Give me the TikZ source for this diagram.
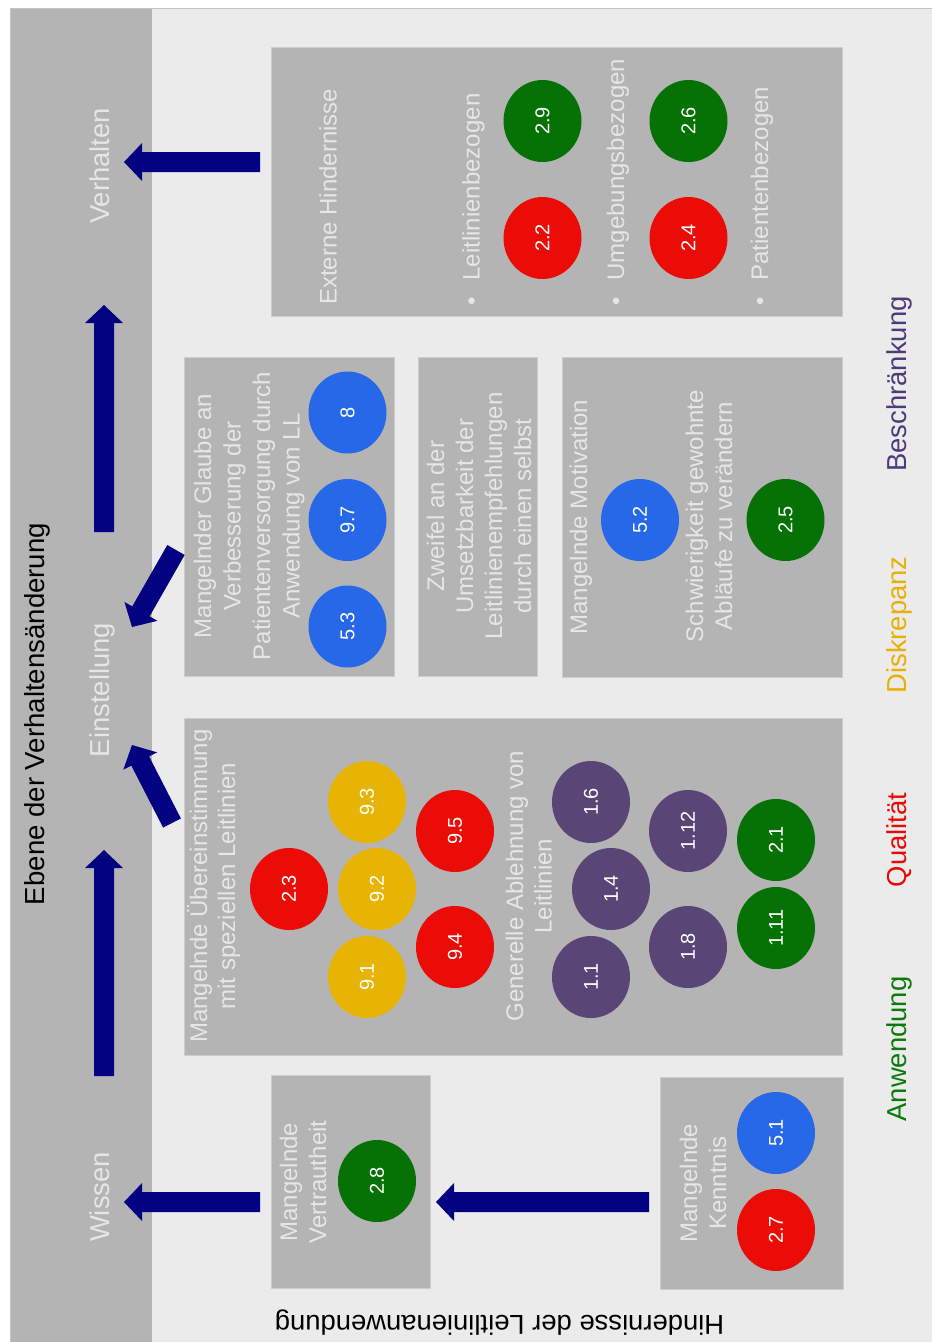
\documentclass[tikz,border=0pt]{standalone}
\usepackage{fontspec}
\setmainfont{Liberation Sans}
\usetikzlibrary{calc,shapes.geometric}

\definecolor{panelgray}{HTML}{EBEBEB}
\definecolor{framegray}{HTML}{C4C4C4}
\definecolor{bandgray}{HTML}{B4B4B4}
\definecolor{boxgray}{HTML}{B4B4B4}
\definecolor{boxedge}{HTML}{CDCDCD}
\definecolor{boxtext}{HTML}{E6E6E6}
\definecolor{navy}{HTML}{030382}
\definecolor{cred}{HTML}{EB0C08}
\definecolor{cgreen}{HTML}{067206}
\definecolor{cblue}{HTML}{2668E8}
\definecolor{cyellow}{HTML}{E8B404}
\definecolor{cpurple}{HTML}{5A4676}
\definecolor{lgreen}{HTML}{0B7A0B}
\definecolor{lred}{HTML}{E80808}
\definecolor{lyellow}{HTML}{E8B000}
\definecolor{lpurple}{HTML}{4B3B78}

\newcommand{\setfs}[1]{\fontsize{#1pt}{#1pt}\selectfont}

% filled block arrow: #1 name, #2 tail coordinate, #3 tip coordinate
\newcommand{\blockarrow}[3]{%
  \coordinate (#1-hb) at ($(#3)!18pt!(#2)$);
  \fill[navy] ($(#2)!10pt!90:(#3)$) -- ($(#1-hb)!10pt!90:(#3)$)
    -- ($(#1-hb)!19pt!90:(#3)$) -- (#3) -- ($(#1-hb)!19pt!-90:(#3)$)
    -- ($(#1-hb)!10pt!-90:(#3)$) -- ($(#2)!10pt!-90:(#3)$) -- cycle;
}

\tikzset{
  panelbox/.style={draw=boxedge, line width=0.8pt, fill=boxgray, inner sep=0pt},
  linetext/.style={rotate=90, anchor=base, inner sep=0pt, text=boxtext, font=\setfs{24}},
  listtext/.style={rotate=90, anchor=base west, inner sep=0pt, text=boxtext, font=\setfs{24}},
  bubble/.style={ellipse, rotate=90, minimum width=82pt, minimum height=78pt,
                 inner sep=0pt, text=white, font=\setfs{20}},
  stagelabel/.style={rotate=90, anchor=base, inner sep=0pt, text=boxtext, font=\setfs{27.4}},
  legendtext/.style={rotate=90, anchor=base, inner sep=0pt, font=\setfs{27.4}},
}

\begin{document}
\begin{tikzpicture}[x=1pt,y=-1pt]
\useasboundingbox (0,0) rectangle (932,1342);
\fill[white] (0,0) rectangle (932,1342);
\fill[panelgray] (10,8) rectangle (932,1342);
\fill[bandgray] (10,8) rectangle (152,1342);
\draw[framegray, line width=1pt] (10,1342) -- (10,8) -- (932,8);

% level of behaviour change
\node[rotate=90, anchor=base, inner sep=0pt, font=\setfs{27.6}] (title) at (44.6,714) {Ebene der Verhaltensänderung};
\node[stagelabel] (verhalten) at (109,166) {Verhalten};
\node[stagelabel] (einstellung) at (109,690) {Einstellung};
\node[stagelabel] (wissen) at (109,1197) {Wissen};

% barrier panels
\node[panelbox, minimum width=571pt, minimum height=269pt] (ext) at (556.5,181.5) {};
\node[panelbox, minimum width=210pt, minimum height=319pt] (glaube) at (289,516.5) {};
\node[panelbox, minimum width=119pt, minimum height=319pt] (zweifel) at (477.5,516.5) {};
\node[panelbox, minimum width=280pt, minimum height=320pt] (motiv) at (702,517) {};
\node[panelbox, minimum width=658pt, minimum height=337pt] (big) at (513,886.5) {};
\node[panelbox, minimum width=159pt, minimum height=213pt] (vert) at (350.5,1181.5) {};
\node[panelbox, minimum width=183pt, minimum height=212pt] (kennt) at (751.5,1183) {};

% external barriers
\node[listtext] (extT) at (336.7,305) {Externe Hindernisse};
\node[listtext] (extA) at (479.5,306) {\textbullet\hspace{17pt}Leitlinienbezogen};
\node[listtext] (extB) at (624,306) {\textbullet\hspace{17pt}Umgebungsbezogen};
\node[listtext] (extC) at (768,306) {\textbullet\hspace{17pt}Patientenbezogen};
\node[bubble, fill=cgreen] (b29) at (542.5,121) {2.9};
\node[bubble, fill=cred] (b22) at (542.5,238) {2.2};
\node[bubble, fill=cgreen] (b26) at (688.5,121) {2.6};
\node[bubble, fill=cred] (b24) at (688.5,238) {2.4};

% belief in improvement
\node[linetext] (gl1) at (211,516) {Mangelnder Glaube an};
\node[linetext] (gl2) at (240.5,516) {Verbesserung der};
\node[linetext] (gl3) at (270,516) {Patientenversorgung durch};
\node[linetext] (gl4) at (299.5,516) {Anwendung von LL};
\node[bubble, fill=cblue] (b53) at (347.5,626.5) {5.3};
\node[bubble, fill=cblue] (b97) at (347.5,520) {9.7};
\node[bubble, fill=cblue] (b8) at (347.5,412.5) {8};

% doubts about feasibility
\node[linetext] (zw1) at (444,516) {Zweifel an der};
\node[linetext] (zw2) at (473,516) {Umsetzbarkeit der};
\node[linetext] (zw3) at (502,516) {Leitlinienempfehlungen};
\node[linetext] (zw4) at (531,516) {durch einen selbst};

% motivation
\node[linetext] (mo1) at (587,517) {Mangelnde Motivation};
\node[bubble, fill=cblue] (b52) at (640,520) {5.2};
\node[linetext] (mo2) at (703,516) {Schwierigkeit gewohnte};
\node[linetext] (mo3) at (732,516) {Abläufe zu verändern};
\node[bubble, fill=cgreen] (b25) at (785.5,520) {2.5};

% agreement and rejection
\node[linetext] (ag1) at (207,886) {Mangelnde Übereinstimmung};
\node[linetext] (ag2) at (235,886) {mit speziellen Leitlinien};
\node[bubble, fill=cred] (b23) at (289,889) {2.3};
\node[bubble, fill=cyellow] (b93) at (367,802) {9.3};
\node[bubble, fill=cyellow] (b92) at (377,889) {9.2};
\node[bubble, fill=cyellow] (b91) at (367,977) {9.1};
\node[bubble, fill=cred] (b95) at (455,831) {9.5};
\node[bubble, fill=cred] (b94) at (455,947) {9.4};
\node[linetext] (ab1) at (523,886) {Generelle Ablehnung von};
\node[linetext] (ab2) at (551.5,886) {Leitlinien};
\node[bubble, fill=cpurple] (b16) at (591,802) {1.6};
\node[bubble, fill=cpurple] (b14) at (611,889) {1.4};
\node[bubble, fill=cpurple] (b11) at (591,977) {1.1};
\node[bubble, fill=cpurple] (b112) at (688,831) {1.12};
\node[bubble, fill=cpurple] (b18) at (688,947) {1.8};
\node[bubble, fill=cgreen] (b21) at (776,840) {2.1};
\node[bubble, fill=cgreen] (b111) at (776,928) {1.11};

% familiarity and knowledge
\node[linetext] (ve1) at (297,1182) {Mangelnde};
\node[linetext] (ve2) at (326,1182) {Vertrautheit};
\node[bubble, fill=cgreen] (b28) at (377,1181) {2.8};
\node[linetext] (ke1) at (697,1183) {Mangelnde};
\node[linetext] (ke2) at (726,1183) {Kenntnis};
\node[bubble, fill=cblue] (b51) at (776,1133) {5.1};
\node[bubble, fill=cred] (b27) at (776,1230) {2.7};

% arrows
\coordinate (a1t) at (260,162);  \coordinate (a1h) at (124,162);
\coordinate (a2t) at (260,1202); \coordinate (a2h) at (124,1202);
\coordinate (a3t) at (649,1202); \coordinate (a3h) at (436,1202);
\coordinate (a4t) at (104,1076); \coordinate (a4h) at (104,850);
\coordinate (a5t) at (104,532);  \coordinate (a5h) at (104,305);
\coordinate (a6t) at (172,823);  \coordinate (a6h) at (132,745);
\coordinate (a7t) at (176,550);  \coordinate (a7h) at (132,627);
\blockarrow{ar1}{a1t}{a1h}
\blockarrow{ar2}{a2t}{a2h}
\blockarrow{ar3}{a3t}{a3h}
\blockarrow{ar4}{a4t}{a4h}
\blockarrow{ar5}{a5t}{a5h}
\blockarrow{ar6}{a6t}{a6h}
\blockarrow{ar7}{a7t}{a7h}

% category legend
\node[legendtext, text=lgreen] (lg1) at (906.5,1049) {Anwendung};
\node[legendtext, text=lred] (lg2) at (906.5,840) {Qualität};
\node[legendtext, text=lyellow] (lg3) at (906.5,625) {Diskrepanz};
\node[legendtext, text=lpurple] (lg4) at (906.5,384) {Beschränkung};

\node[rotate=180, anchor=base, inner sep=0pt, font=\setfs{27.4}] (foot) at (499.5,1315.4) {Hindernisse der Leitlinienanwendung};
\end{tikzpicture}
\end{document}
